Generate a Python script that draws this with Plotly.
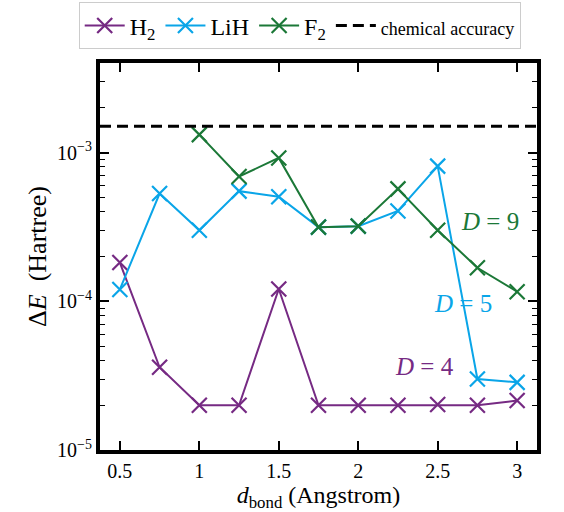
import math
import plotly.graph_objects as go

d_bond = [0.5, 0.75, 1.0, 1.25, 1.5, 1.75, 2.0, 2.25, 2.5, 2.75, 3.0]
h2 = [1.82e-4, 3.6e-5, 2.0e-5, 2.0e-5, 1.21e-4, 2.0e-5, 2.0e-5, 2.0e-5, 2.02e-5, 2.0e-5, 2.15e-5]
lih = [1.2e-4, 5.3e-4, 3.0e-4, 5.5e-4, 5.05e-4, 3.15e-4, 3.2e-4, 4.05e-4, 8.1e-4, 3.0e-5, 2.85e-5]
f2_x = [1.0, 1.25, 1.5, 1.75, 2.0, 2.25, 2.5, 2.75, 3.0]
f2 = [1.32e-3, 6.9e-4, 9.2e-4, 3.15e-4, 3.2e-4, 5.7e-4, 3.0e-4, 1.68e-4, 1.16e-4]
chem_acc = 1.5e-3
x_ticks = [0.5, 1.0, 1.5, 2.0, 2.5, 3.0]
x_ticklabels = ["0.5", "1", "1.5", "2", "2.5", "3"]
y_ticks = [1e-5, 1e-4, 1e-3]
y_ticklabels = ["10<sup>−5</sup>", "10<sup>−4</sup>", "10<sup>−3</sup>"]
y_minor = [m * 10.0 ** e for e in (-5, -4, -3) for m in range(2, 10) if m * 10.0 ** e < 4e-3]

C_H2 = "#762a83"
C_LIH = "#0aa5e8"
C_F2 = "#1b7837"
FONT = "Liberation Serif"

fig = go.Figure()

def add_series(x, y, name, color):
    fig.add_trace(go.Scatter(
        x=x, y=y, mode="lines+markers", name=name,
        line=dict(color=color, width=2),
        marker=dict(symbol="x-thin", size=15, line=dict(color=color, width=2.2), color=color),
    ))

add_series(d_bond, h2, "H<sub>2</sub>", C_H2)
add_series(d_bond, lih, "LiH", C_LIH)
add_series(f2_x, f2, "F<sub>2</sub>", C_F2)

fig.add_trace(go.Scatter(
    x=[0.375, 3.125], y=[chem_acc, chem_acc], mode="lines",
    name='<span style="font-size:18px">chemical accuracy</span>',
    line=dict(color="black", width=3, dash="11px,6px"),
))

annots = [
    (2.83, 3.45e-4, "<i>D</i> = 9", C_F2),
    (2.66, 9.6e-5, "<i>D</i> = 5", C_LIH),
    (2.42, 3.65e-5, "<i>D</i> = 4", C_H2),
]
for ax_, ay_, txt, col in annots:
    fig.add_annotation(x=ax_, y=math.log10(ay_), text=txt, showarrow=False,
                       font=dict(family=FONT, size=25, color=col))

axis_common = dict(
    showline=True, linewidth=4, linecolor="black", mirror="allticks",
    ticks="inside", ticklen=9, tickwidth=1.5, tickcolor="black",
    showgrid=False, zeroline=False,
    tickfont=dict(family=FONT, size=20, color="black"),
)

fig.update_xaxes(
    range=[0.375, 3.125], tickvals=x_ticks, ticktext=x_ticklabels,
    title=dict(text="<i>d</i><sub>bond</sub> (Angstrom)", font=dict(family=FONT, size=24, color="black"), standoff=8),
    **axis_common,
)
fig.update_yaxes(
    type="log", range=[-5, -2.398], tickvals=y_ticks, ticktext=y_ticklabels,
    minor=dict(tickmode="array", tickvals=y_minor, ticks="inside", ticklen=5,
               tickwidth=1.2, tickcolor="black", showgrid=False),
    title=dict(text="Δ<i>E</i>  (Hartree)", font=dict(family=FONT, size=26, color="black"), standoff=4),
    **axis_common,
)

fig.update_layout(
    width=564, height=512,
    margin=dict(l=100, r=27, t=63, b=62, autoexpand=False),
    plot_bgcolor="white", paper_bgcolor="white",
    font=dict(family=FONT, size=24, color="black"),
    legend=dict(
        orientation="h", x=0.457, xanchor="center", y=1.035, yanchor="bottom",
        bordercolor="#cccccc", borderwidth=1, bgcolor="white",
        font=dict(family=FONT, size=24), tracegroupgap=0, itemwidth=40,
    ),
)

fig.write_html("out.html")
